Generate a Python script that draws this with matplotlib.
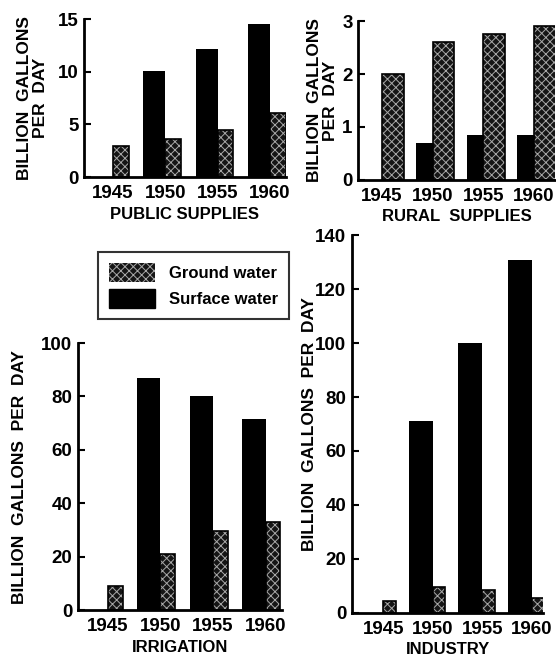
import matplotlib
matplotlib.use("Agg")
import matplotlib.pyplot as plt
from matplotlib.patches import Patch
import numpy as np

plt.rcParams['font.family'] = ['Liberation Sans', 'DejaVu Sans']
plt.rcParams['font.weight'] = 'bold'
plt.rcParams['axes.labelweight'] = 'bold'
plt.rcParams['hatch.linewidth'] = 0.7

years = ['1945', '1950', '1955', '1960']

public_surface = [0, 10.1, 12.2, 14.5]
public_ground = [3.0, 3.6, 4.5, 6.1]

rural_surface = [0, 0.7, 0.85, 0.85]
rural_ground = [2.0, 2.6, 2.75, 2.9]

irrigation_surface = [0, 87, 80, 71.5]
irrigation_ground = [9, 21, 29.5, 33]

industry_surface = [0, 71, 100, 131]
industry_ground = [4.5, 9.5, 8.5, 5.5]

GROUND_FACE = '#151515'
GROUND_HATCH = '#a8a8a8'


def draw_panel(ax, surface, ground, ymax, yticks, title, ylabel, ws, wg, xlim, ylabelpad):
    x = np.arange(len(years))
    # surface bars use a negative width so they end at the group boundary
    for xi, s in zip(x, surface):
        if s > 0:
            ax.bar(xi, s, width=-ws, align='edge', color='black', edgecolor='black', linewidth=0)
    for xi, g in zip(x, ground):
        if g > 0:
            ax.bar(xi, g, width=wg, align='edge', color=GROUND_FACE,
                   edgecolor=GROUND_HATCH, hatch='xxxx', linewidth=0)
            ax.bar(xi, g, width=wg, align='edge', fill=False, edgecolor='black', linewidth=1.2)
    ax.set_xlim(*xlim)
    ax.set_ylim(0, ymax)
    ax.set_yticks(yticks)
    ax.set_xticks(x)
    ax.set_xticklabels(years, fontsize=13.5)
    ax.tick_params(axis='x', length=0, pad=6)
    ax.tick_params(axis='y', direction='in', length=5, width=1.5, labelsize=13.5, pad=4)
    for side in ['top', 'right']:
        ax.spines[side].set_visible(False)
    ax.spines['left'].set_linewidth(2)
    ax.spines['bottom'].set_linewidth(2)
    ax.set_xlabel(title, fontsize=12, labelpad=3)
    ax.set_ylabel(ylabel, fontsize=12.5, linespacing=1.1, labelpad=ylabelpad)


fig = plt.figure(figsize=(5.56, 6.61), dpi=100)

ax1 = fig.add_axes([0.151, 0.732, 0.363, 0.239])
ax2 = fig.add_axes([0.644, 0.728, 0.354, 0.240])
ax3 = fig.add_axes([0.140, 0.077, 0.367, 0.404])
ax4 = fig.add_axes([0.633, 0.073, 0.344, 0.571])

draw_panel(ax1, public_surface, public_ground, 15, [0, 5, 10, 15], 'PUBLIC SUPPLIES',
           'BILLION  GALLONS\nPER  DAY', 0.42, 0.30, (-0.55, 3.3), 7)
draw_panel(ax2, rural_surface, rural_ground, 3, [0, 1, 2, 3], 'RURAL  SUPPLIES',
           'BILLION  GALLONS\nPER  DAY', 0.33, 0.43, (-0.47, 3.41), 3)
draw_panel(ax3, irrigation_surface, irrigation_ground, 100, [0, 20, 40, 60, 80, 100], 'IRRIGATION',
           'BILLION  GALLONS  PER  DAY', 0.44, 0.28, (-0.57, 3.31), 10)
draw_panel(ax4, industry_surface, industry_ground, 140, [0, 20, 40, 60, 80, 100, 120, 140], 'INDUSTRY',
           'BILLION  GALLONS  PER  DAY', 0.48, 0.25, (-0.63, 3.23), -1)

handles = [
    Patch(facecolor=GROUND_FACE, edgecolor=GROUND_HATCH, hatch='xxxx', linewidth=0, label='Ground water'),
    Patch(facecolor='black', edgecolor='black', label='Surface water'),
]
leg = fig.legend(handles=handles, loc='upper left', bbox_to_anchor=(98 / 556, 1 - 252 / 661),
                 borderaxespad=0, frameon=True, fancybox=False, edgecolor='black',
                 handlelength=2.8, handleheight=1.35, borderpad=0.65, labelspacing=0.45,
                 handletextpad=0.8,
                 prop={'weight': 'bold', 'size': 12})
leg.get_frame().set_linewidth(1.5)

fig.savefig('out.png', dpi=100)
